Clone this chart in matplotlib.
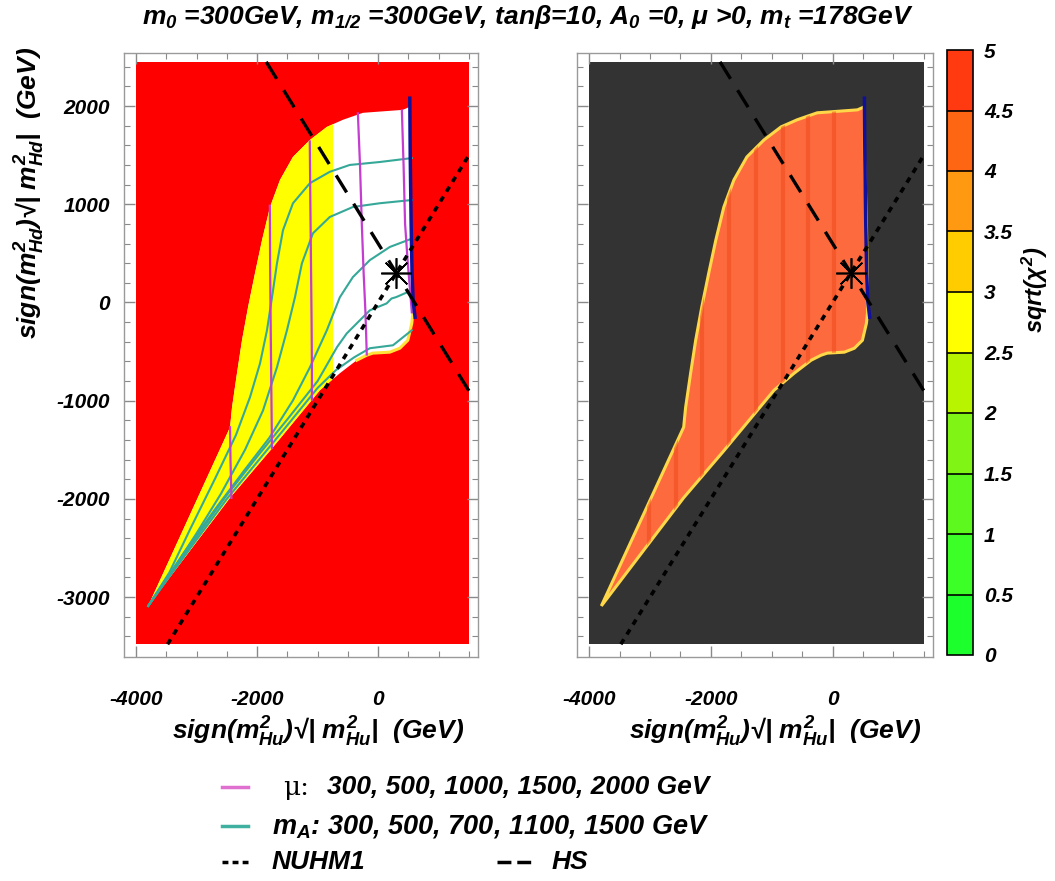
import matplotlib
matplotlib.use('Agg')
import matplotlib.pyplot as plt
from matplotlib.patches import Polygon, Rectangle
from matplotlib.colors import ListedColormap, BoundaryNorm
from matplotlib.lines import Line2D
import matplotlib.colorbar as mcolorbar

plt.rcParams['font.family'] = ['Liberation Sans', 'DejaVu Sans']
plt.rcParams['mathtext.fontset'] = 'custom'
plt.rcParams['mathtext.rm'] = 'Liberation Sans:bold:italic'
plt.rcParams['mathtext.it'] = 'Liberation Sans:bold:italic'
plt.rcParams['mathtext.bf'] = 'Liberation Sans:bold:italic'
plt.rcParams['axes.unicode_minus'] = False

# ---------------- data ----------------
scan_x = [-4000, 1500]
scan_y = [-3480, 2450]

# allowed (EWSB) region boundary
region_x = [523, 408, -252, -582, -846, -1127, -1408, -1622, -1787, -1919, -2035, -2150,
            -2250, -2333, -2415, -2447, -3800, -3000, -2447, -1787, -1300, -963, -633,
            -353, -188, -88, 193, 358, 490, 556, 573, 573, 556, 523]
region_y = [1992, 1961, 1931, 1860, 1788, 1655, 1482, 1247, 972, 635, 299, -48,
            -385, -721, -1068, -1270, -3090, -2438, -1988, -1510, -1146, -894, -721,
            -588, -537, -516, -506, -466, -385, -212, -110, 125, 807, 1482]

# sqrt(chi^2) > 3 (yellow) for x below this value inside the region
chi_split_x = -750

# lower-right rim of the region
rim_x = [-353, -188, -88, 193, 358, 490, 556, 573]
rim_y = [-588, -537, -516, -506, -466, -385, -212, -110]

# blue edge
blue_x = [523, 530, 545, 560, 580, 610]
blue_y = [2080, 1500, 800, 300, 0, -150]

# darker scan columns visible in the right panel
scan_cols_x = [-3020, -2580, -2140, -1700, -1260, -820, -400, 20]

# mu contours (GeV)
mu_values = [300, 500, 1000, 1500, 2000]
mu_x = [
    [392, 420, 445, 490, 530, 556],
    [-335, -300, -270, -240, -210, -188],
    [-1130, -1120, -1110, -1100, -1095, -1095],
    [-1790, -1785, -1775, -1765, -1755],
    [-2447, -2440, -2425],
]
mu_y = [
    [1955, 1400, 800, 400, 100, -100],
    [1925, 1400, 800, 300, -100, -530],
    [1640, 1000, 400, -200, -650, -990],
    [985, 400, -300, -900, -1480],
    [-1270, -1600, -1990],
]

# m_A contours (GeV)
mA_values = [300, 500, 700, 1100, 1500]
mA_x = [
    [556, 245, -137, -400, -700, -1000, -1500, -2000, -2500, -3000, -3400, -3800],
    [560, 300, 220, 140, 60, -137, -300, -520, -680, -1000, -1500, -2000, -2500, -3000, -3400, -3800],
    [556, 193, -137, -418, -633, -848, -1127, -1408, -1800, -2200, -2700, -3200, -3800],
    [556, 25, -418, -800, -1078, -1260, -1375, -1507, -1672, -1903, -2200, -2600, -3000, -3400, -3800],
    [556, 25, -470, -800, -1127, -1408, -1573, -1672, -1754, -1837, -1952, -2117, -2350, -2700, -3100, -3450, -3800],
]
mA_y = [
    [-283, -436, -466, -560, -690, -870, -1250, -1625, -2000, -2415, -2750, -3090],
    [125, 55, 40, -10, -30, -80, -180, -316, -455, -800, -1190, -1570, -1960, -2385, -2730, -3090],
    [650, 565, 431, 258, 53, -283, -660, -997, -1380, -1700, -2110, -2540, -3090],
    [1043, 1010, 972, 870, 704, 398, 53, -283, -660, -1100, -1500, -1950, -2350, -2730, -3090],
    [1470, 1430, 1400, 1330, 1215, 1010, 735, 398, 53, -283, -620, -963, -1350, -1800, -2300, -2750, -3090],
]

# benchmark lines
nuhm1_x = [-3480, 1500]
nuhm1_y = [-3480, 1500]
hs_x = [-1850, 1500]
hs_y = [2450, -900]
star_x = [300]
star_y = [300]

# colour bar
cb_bounds = [0, 0.5, 1, 1.5, 2, 2.5, 3, 3.5, 4, 4.5, 5]
cb_colors = ['#1cff2c', '#3cff28', '#5cf81e', '#80f414', '#b8f400',
             '#ffff00', '#ffcc00', '#ff9912', '#ff6614', '#ff3a10']
cb_ticklabels = ['0', '0.5', '1', '1.5', '2', '2.5', '3', '3.5', '4', '4.5', '5']

# ---------------- styling ----------------
W, H = 1055, 881
fig = plt.figure(figsize=(W / 100, H / 100), dpi=100)
fig.patch.set_facecolor('white')

RED = '#ff0000'
DARK = '#333333'
ORANGE = '#fd6a3e'
MAG = '#c43cd0'
TEAL = '#35a898'
BLUE = '#10109a'
BI = dict(fontweight='bold', fontstyle='italic')
XLIM = (-4200, 1650)
YLIM = (-3610, 2540)
tick_fs = 15


def frame(ax, ylabels=True):
    ax.set_xlim(*XLIM)
    ax.set_ylim(*YLIM)
    ax.set_xticks([-4000, -2000, 0])
    ax.set_xticks(range(-4000, 1501, 500), minor=True)
    ax.set_yticks(range(-3000, 2001, 1000))
    ax.set_yticks(range(-3400, 2501, 200), minor=True)
    ax.tick_params(which='both', direction='in', top=True, right=True, color='#8a8a8a')
    ax.tick_params(which='major', length=8, width=1)
    ax.tick_params(which='minor', length=4, width=0.8)
    ax.tick_params(axis='x', pad=24)
    ax.tick_params(axis='y', pad=10)
    for s in ax.spines.values():
        s.set_color('#9a9a9a')
        s.set_linewidth(1.0)
    for lab in ax.get_xticklabels() + ax.get_yticklabels():
        lab.set_fontsize(tick_fs)
        lab.set_fontweight('bold')
        lab.set_fontstyle('italic')
    if not ylabels:
        ax.set_yticklabels([])


def lines(ax):
    ax.plot(nuhm1_x, nuhm1_y, color='black', lw=2.6, dashes=(1.6, 1.6), zorder=6)
    ax.plot(hs_x, hs_y, color='black', lw=2.4, dashes=(6, 4), zorder=6)
    ax.plot(star_x, star_y, marker=(8, 2, 0), markersize=22, mew=1.2,
            color='black', ls='none', zorder=7)


ax_h = 604 / H
ax_b = 1 - 657 / H
ax1 = fig.add_axes([124 / W, ax_b, 354 / W, ax_h])
ax2 = fig.add_axes([577 / W, ax_b, 356 / W, ax_h])

# ---- left panel ----
ax1.add_patch(Rectangle((scan_x[0], scan_y[0]), scan_x[1] - scan_x[0], scan_y[1] - scan_y[0],
                        facecolor=RED, edgecolor='none', zorder=1))
poly1 = Polygon(list(zip(region_x, region_y)), closed=True, facecolor='white',
                edgecolor='none', zorder=2)
ax1.add_patch(poly1)
yel = Rectangle((scan_x[0], scan_y[0]), chi_split_x - scan_x[0], scan_y[1] - scan_y[0],
                facecolor='#ffff00', edgecolor='none', zorder=3)
ax1.add_patch(yel)
yel.set_clip_path(poly1)
ax1.plot(rim_x, rim_y, color='#ffe23a', lw=2.2, zorder=3.5)
for xs, ys in zip(mA_x, mA_y):
    ax1.plot(xs, ys, color=TEAL, lw=1.5, zorder=4)
for xs, ys in zip(mu_x, mu_y):
    ax1.plot(xs, ys, color=MAG, lw=1.6, zorder=4.5)
ax1.plot(blue_x, blue_y, color=BLUE, lw=2.5, zorder=5)
lines(ax1)
frame(ax1, True)

# ---- right panel ----
ax2.add_patch(Rectangle((scan_x[0], scan_y[0]), scan_x[1] - scan_x[0], scan_y[1] - scan_y[0],
                        facecolor=DARK, edgecolor='none', zorder=1))
poly2 = Polygon(list(zip(region_x, region_y)), closed=True, facecolor=ORANGE,
                edgecolor='#ffd84a', linewidth=2.2, zorder=2)
ax2.add_patch(poly2)
for cx in scan_cols_x:
    ln, = ax2.plot([cx, cx], [scan_y[0], scan_y[1]], color='#f04a1c', lw=3,
                   alpha=0.55, zorder=2.5)
    ln.set_clip_path(poly2)
ax2.plot(blue_x, blue_y, color=BLUE, lw=2.5, zorder=5)
lines(ax2)
frame(ax2, False)

# ---- colour bar ----
cax = fig.add_axes([947 / W, 1 - 655 / H, 26 / W, 605 / H])
cmap = ListedColormap(cb_colors)
norm = BoundaryNorm(cb_bounds, cmap.N)
cb = mcolorbar.ColorbarBase(cax, cmap=cmap, norm=norm, boundaries=cb_bounds,
                            ticks=cb_bounds, drawedges=True)
cb.outline.set_edgecolor('black')
cb.outline.set_linewidth(1.2)
cb.dividers.set_color('black')
cb.dividers.set_linewidth(1.2)
cb.ax.set_yticklabels(cb_ticklabels)
cb.ax.tick_params(length=0, pad=8)
for lab in cb.ax.get_yticklabels():
    lab.set_fontsize(tick_fs)
    lab.set_fontweight('bold')
    lab.set_fontstyle('italic')

# ---- texts ----
fig.text(528 / W, 1 - 17 / H,
         r"$m_0$ =300GeV, $m_{1/2}$ =300GeV, tanβ=10, $A_0$ =0, μ >0, $m_t$ =178GeV",
         ha='center', va='center', fontsize=19, **BI)
fig.text(30 / W, 1 - 193 / H, r"sign($m_{Hd}^{2}$)√| $m_{Hd}^{2}$|  (GeV)",
         rotation=90, ha='center', va='center', fontsize=19, **BI)
fig.text(318 / W, 1 - 732 / H, r"sign($m_{Hu}^{2}$)√| $m_{Hu}^{2}$|  (GeV)",
         ha='center', va='center', fontsize=19, **BI)
fig.text(775 / W, 1 - 732 / H, r"sign($m_{Hu}^{2}$)√| $m_{Hu}^{2}$|  (GeV)",
         ha='center', va='center', fontsize=19, **BI)
fig.text(1035 / W, 1 - 290 / H, r"sqrt($\chi^{2}$)", rotation=90,
         ha='center', va='center', fontsize=17, **BI)

# ---- legend ----
fig.add_artist(Line2D([222 / W, 248 / W], [1 - 787 / H] * 2, color='#e070d0', lw=2.5))
fig.add_artist(Line2D([222 / W, 248 / W], [1 - 826 / H] * 2, color='#40b0a0', lw=2.5))
fig.add_artist(Line2D([222 / W, 248 / W], [1 - 862 / H] * 2, color='black', lw=2.5,
                      dashes=(1.7, 1.2)))
fig.add_artist(Line2D([497 / W, 531 / W], [1 - 862 / H] * 2, color='black', lw=2.5,
                      dashes=(4.0, 1.7)))
fig.text(283 / W, 1 - 787 / H, "μ:", ha='left', va='center', fontsize=19,
         family=['DejaVu Serif'])
fig.text(327 / W, 1 - 787 / H, ", ".join(str(v) for v in mu_values) + " GeV",
         ha='left', va='center', fontsize=19, **BI)
fig.text(272 / W, 1 - 826 / H,
         r"$m_A$: " + ", ".join(str(v) for v in mA_values) + " GeV",
         ha='left', va='center', fontsize=19.5, **BI)
fig.text(272 / W, 1 - 862 / H, "NUHM1", ha='left', va='center', fontsize=19, **BI)
fig.text(552 / W, 1 - 862 / H, "HS", ha='left', va='center', fontsize=19, **BI)

fig.savefig('out.png', dpi=100)
